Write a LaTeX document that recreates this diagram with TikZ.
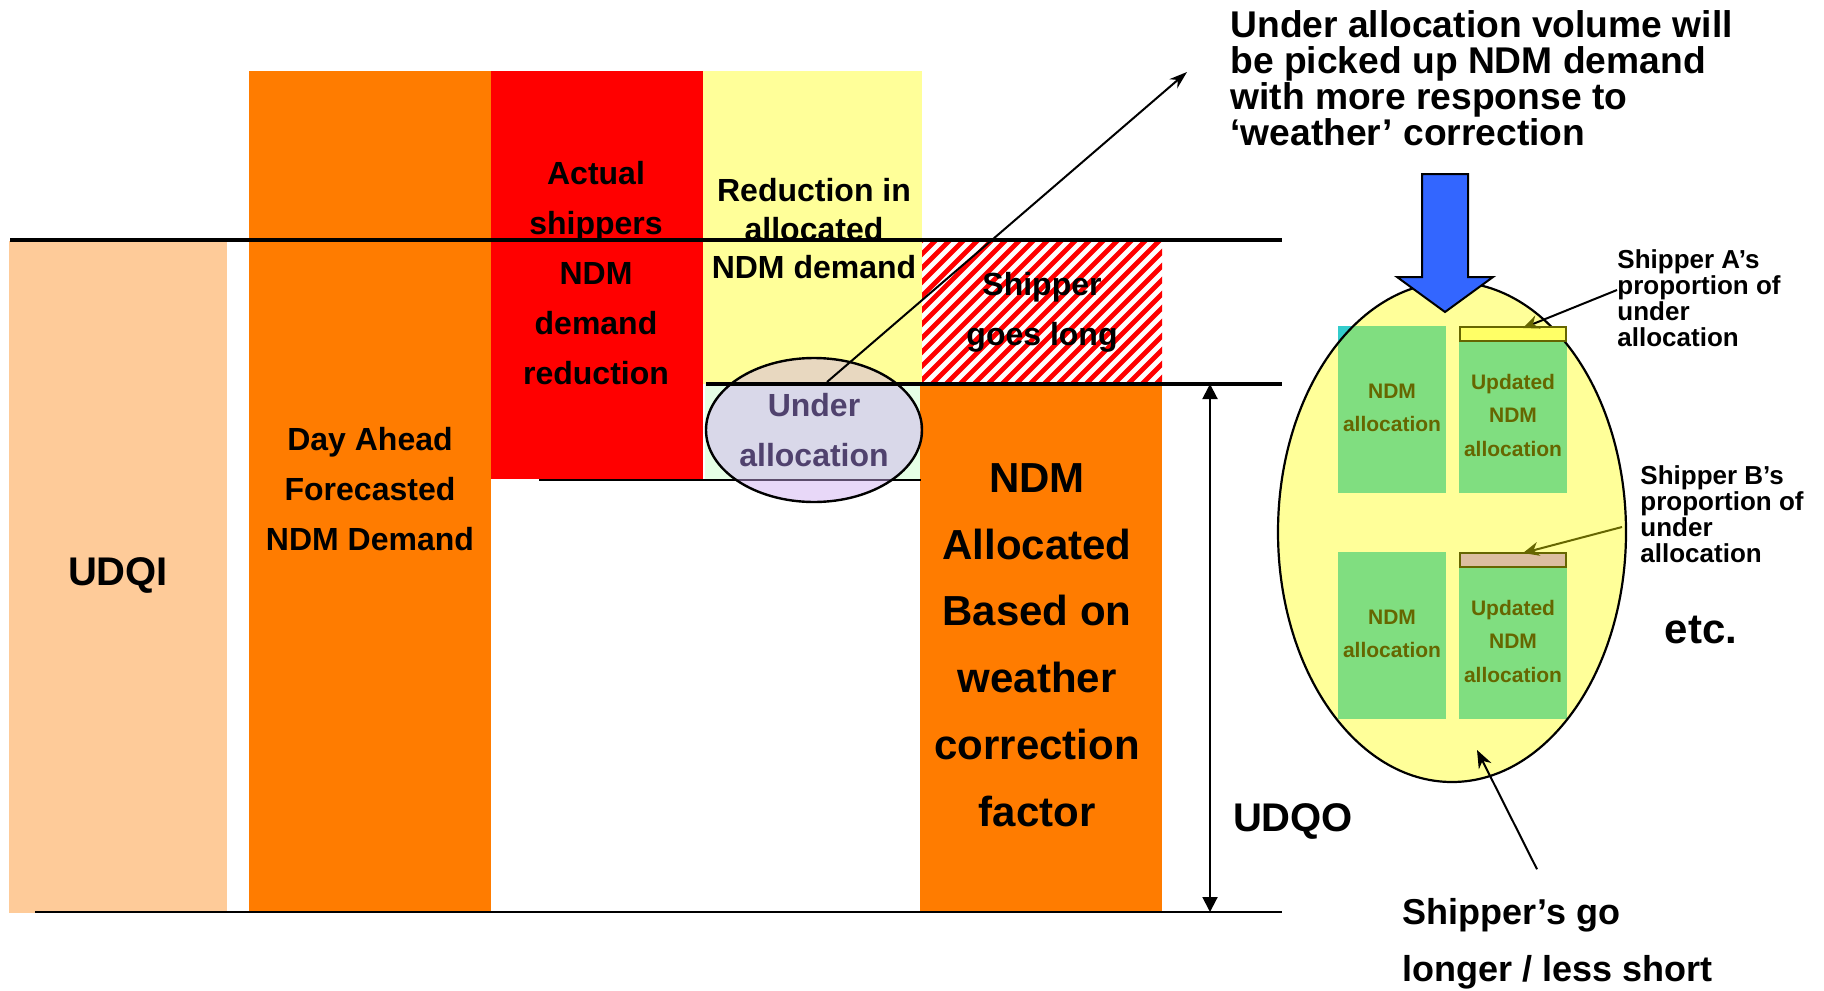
\documentclass[tikz,border=0pt]{standalone}
\usepackage{fontspec}
\setmainfont{Liberation Sans}
\usetikzlibrary{arrows.meta,shapes.geometric}

\definecolor{udqipeach}{RGB}{254,203,153}
\definecolor{ndmorange}{RGB}{255,124,0}
\definecolor{paleyellow}{RGB}{255,255,153}
\definecolor{palegreen}{RGB}{229,255,229}
\definecolor{lavender}{RGB}{204,169,240}
\definecolor{plum}{RGB}{80,66,110}
\definecolor{boxgreen}{RGB}{128,222,128}
\definecolor{olivetext}{RGB}{102,102,0}
\definecolor{tealpatch}{RGB}{51,204,204}
\definecolor{bluearrow}{RGB}{51,102,255}
\definecolor{tanbar}{RGB}{220,190,160}
\definecolor{baryellow}{RGB}{255,255,102}

\tikzset{
  bigtxt/.style={font=\bfseries\fontsize{16}{25}\selectfont, align=center, inner sep=0pt},
  boxtxt/.style={font=\bfseries\fontsize{10.5}{16.75}\selectfont, align=center, inner sep=0pt, text=olivetext},
  notetxt/.style={font=\bfseries\fontsize{13}{13}\selectfont, align=left, inner sep=0pt, anchor=west},
  propbar/.style={line width=1.3pt, draw=olivetext}
}

\begin{document}
\begin{tikzpicture}[x=5pt, y=-5pt]
			%%%%% START %%%%%
			\useasboundingbox (0,0) rectangle (182.4,99.0);
			
			\fill[udqipeach] (0.9,24.1) rectangle (22.7,91.3);
			\fill[ndmorange] (24.9,7.1) rectangle (49.1,91.3);
			\fill[red] (49.1,7.1) rectangle (70.3,47.9);
			\fill[paleyellow] (70.3,7.1) rectangle (92.2,38.4);
			\fill[palegreen] (70.5,38.4) rectangle (92.1,48.0);
			\fill[ndmorange] (92.0,38.4) rectangle (116.2,91.3);
			
			\begin{scope}
				\clip (92.2,24.1) rectangle (116.2,38.4);
				\foreach \i in {76.0,77.4,...,116.2}
					\draw[red, line width=2.4pt] (\i,38.8) -- ++(15,-15);
			\end{scope}
			
			\draw[line width=1pt] (53.9,48.0) -- (92.1,48.0);
			\node[ellipse, draw, line width=1.2pt, fill=lavender, fill opacity=0.45, text opacity=1,
				minimum width=108pt, minimum height=72pt, inner sep=0pt, text=plum,
				font=\bfseries\fontsize{16}{25}\selectfont, align=center] (uall) at (81.4,43.0) {Under\\allocation};
			
			\draw[line width=2pt] (1.0,24.0) -- (128.2,24.0);
			\draw[line width=1.8pt] (70.6,38.4) -- (128.2,38.4);
			\draw[line width=1.1pt] (3.5,91.2) -- (128.2,91.2);
			
			\node[bigtxt] (actual) at (59.6,27.3) {Actual\\shippers\\NDM\\demand\\reduction};
			\node[bigtxt, font=\bfseries\fontsize{16}{19.25}\selectfont] (reduc) at (81.4,22.9) {Reduction in\\allocated\\NDM demand};
			\node[bigtxt] (golong) at (104.2,31.2) {Shipper\\goes long};
			\node[bigtxt] (dayahead) at (37.0,48.9) {Day Ahead\\Forecasted\\NDM Demand};
			\node[bigtxt, font=\bfseries\fontsize{21}{33.4}\selectfont] (ndmalloc) at (103.7,64.5) {NDM\\Allocated\\Based on\\weather\\correction\\factor};
			\node[bigtxt, font=\bfseries\fontsize{20}{24}\selectfont] (udqi) at (11.8,57.5) {UDQI};
			\node[bigtxt, font=\bfseries\fontsize{20}{24}\selectfont] (udqo) at (129.3,82.1) {UDQO};
			\node[bigtxt, align=left, anchor=west, font=\bfseries\fontsize{18.6}{18}\selectfont] (volume) at (123.0,7.8)
				{Under allocation volume will\\be picked up NDM demand\\with more response to\\`weather' correction};
			
			\draw[line width=1pt, -{Stealth[length=9pt,width=6pt]}] ([xshift=6.5pt,yshift=24pt]uall.center) -- ([xshift=-21.5pt,yshift=3pt]volume.west);
			
			\coordinate (udqotop) at (121.0,38.4);
			\coordinate (udqobot) at (121.0,91.2);
			\draw[line width=1pt, {Triangle[length=7.5pt,width=7.5pt]}-{Triangle[length=7.5pt,width=7.5pt]}] (udqotop) -- (udqobot);
			
			% shippers egg
			\fill[tealpatch] (133.8,32.6) rectangle (144.6,49.3);
			\node[ellipse, fill=paleyellow, minimum width=174pt, minimum height=250pt, inner sep=0pt] (egg) at (145.2,53.2) {};
			\begin{scope}
				\clip (egg.center) ellipse [x radius=17.4, y radius=25.0];
				\fill[boxgreen] (133.8,32.6) rectangle (144.6,49.3);
				\fill[boxgreen] (145.9,32.6) rectangle (156.7,49.3);
				\fill[boxgreen] (133.8,55.2) rectangle (144.6,71.9);
				\fill[boxgreen] (145.9,55.2) rectangle (156.7,71.9);
			\end{scope}
			\draw[line width=1.1pt] (egg.center) ellipse [x radius=17.4, y radius=25.0];
			
			\draw[propbar, fill=baryellow] (146.0,32.7) rectangle (156.6,34.1);
			\draw[propbar, fill=tanbar] (146.0,55.3) rectangle (156.6,56.7);
			
			\node[boxtxt] (allocA) at (139.2,40.8) {NDM\\allocation};
			\node[boxtxt] (updA) at (151.3,41.5) {Updated\\NDM\\allocation};
			\node[boxtxt] (allocB) at (139.2,63.4) {NDM\\allocation};
			\node[boxtxt] (updB) at (151.3,64.1) {Updated\\NDM\\allocation};
			
			\draw[line width=1pt, fill=bluearrow, line join=miter] (142.2,17.4) -- (146.8,17.4) -- (146.8,27.7) -- (149.3,27.7)
				-- (144.5,31.2) -- (139.7,27.7) -- (142.2,27.7) -- cycle;
			
			\node[notetxt] (shipA) at (161.7,29.8) {Shipper A's\\proportion of\\under\\allocation};
			\node[notetxt] (shipB) at (164.0,51.4) {Shipper B's\\proportion of\\under\\allocation};
			\coordinate (tipA) at (152.3,32.8);
			\coordinate (tipB) at (152.3,55.3);
			\draw[line width=1pt, -{Stealth[length=8pt,width=7pt,color=olivetext]}] ([yshift=4pt]shipA.west) -- (tipA);
			\draw[line width=1pt, olivetext, -{Stealth[length=8pt,width=7pt]}] ([xshift=-9pt,yshift=-6.5pt]shipB.west) -- (tipB);
			
			\node[bigtxt, font=\bfseries\fontsize{21}{24}\selectfont] (etc) at (170.1,63.0) {etc.};
			\node[bigtxt, align=left, anchor=west, font=\bfseries\fontsize{18}{28.5}\selectfont] (shipgo) at (140.2,94.4) {Shipper's go\\longer / less short};
			\coordinate (goTip) at (147.7,75.0);
			\draw[line width=1pt, -{Stealth[length=9pt,width=7pt]}] ([xshift=67.5pt,yshift=14.5pt]shipgo.north west) -- (goTip);
			
			%%%%% END %%%%%
\end{tikzpicture}
\end{document}
